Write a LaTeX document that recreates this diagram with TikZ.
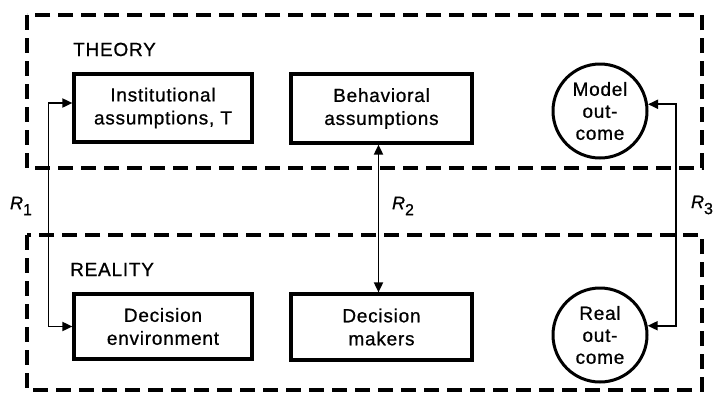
\documentclass[tikz,border=0pt]{standalone}
\usepackage{fontspec}
\setmainfont{Liberation Sans}[LetterSpace=4, FakeBold=0.8]
\usetikzlibrary{arrows.meta}
\begin{document}
\begin{tikzpicture}[x=1pt,y=-1pt,
  frame/.style={line width=3.4pt, dash pattern=on 15pt off 8pt},
  block/.style={draw, line width=3.2pt, rectangle, align=center, inner sep=0pt,
    font=\fontsize{19}{23}\selectfont},
  outcome/.style={draw, line width=3pt, circle, align=center, inner sep=0pt,
    minimum size=94pt, font=\fontsize{19}{22}\selectfont},
  heading/.style={font=\fontsize{19}{23}\selectfont, anchor=base west, inner sep=0pt},
  link/.style={line width=1.8pt, {Triangle[length=10pt,width=9pt]}-{Triangle[length=10pt,width=9pt]}},
  rlabel/.style={font=\fontsize{18}{18}\selectfont\itshape, inner sep=0pt}
]
\useasboundingbox (0,0) rectangle (715,394);

% theory and reality frames
\draw[frame] (27,15) rectangle (702,168);
\draw[frame] (27,235) rectangle (702,390);

\node[heading] (theory) at (73,56) {THEORY};
\node[heading] (reality) at (70,276) {REALITY};

% theory side
\node[block, minimum width=178pt, minimum height=68pt] (inst) at (163,108)
  {Institutional\\assumptions, T};
\node[block, minimum width=181pt, minimum height=69pt] (beh) at (381.5,108.5)
  {Behavioral\\assumptions};
\node[outcome] (model) at (600,111) {Model\\out-\\come};

% reality side
\node[block, minimum width=178pt, minimum height=65pt] (env) at (163,326.5)
  {Decision\\environment};
\node[block, minimum width=181pt, minimum height=66pt] (dm) at (381.5,327)
  {Decision\\makers};
\node[outcome] (real) at (600,335) {Real\\out-\\come};

% correspondences
\draw[link] ([yshift=5pt]inst.west) -- ++(-24,0) |- (env.west);
\draw[link] ([xshift=-3pt]beh.south) -- ([xshift=-3pt]dm.north);
\draw[link] (model.8) -- ++(28,0) |- (real.11);

\node[rlabel] (r1) at (21,206) {R\raisebox{-6pt}{\upshape\fontsize{16}{16}\selectfont 1}};
\node[rlabel] (r2) at (403,206) {R\raisebox{-6pt}{\upshape\fontsize{16}{16}\selectfont 2}};
\node[rlabel] (r3) at (702,205) {R\raisebox{-6pt}{\upshape\fontsize{16}{16}\selectfont 3}};
\end{tikzpicture}
\end{document}
